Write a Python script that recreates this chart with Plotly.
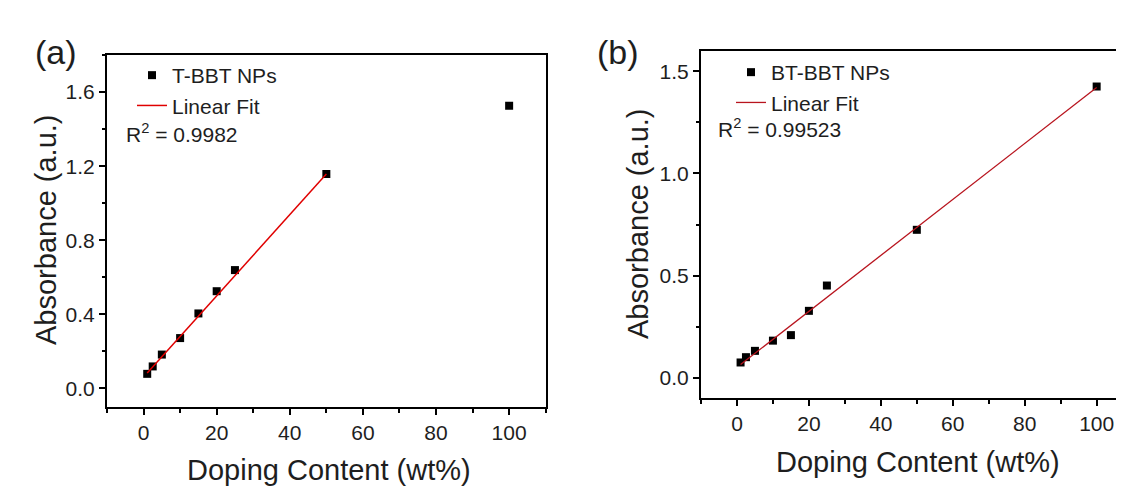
import plotly.graph_objects as go

# ---- data ----
doping = [1, 2.5, 5, 10, 15, 20, 25, 50, 100]
abs_tbbt = [0.079, 0.119, 0.183, 0.272, 0.405, 0.525, 0.639, 1.157, 1.526]
abs_btbbt = [0.074, 0.100, 0.131, 0.181, 0.208, 0.327, 0.451, 0.724, 1.426]

fit_a_x = [1, 50]
fit_a_y = [0.083, 1.157]
fit_b_x = [1, 100]
fit_b_y = [0.064, 1.421]

r2_a = "0.9982"
r2_b = "0.99523"

FONT = "Liberation Sans, Arial, sans-serif"
TXT = "#1e1e1e"
# page body has an 8px margin: figure occupies window px 8..1124 / 8..489
OX, OY = 8, 8
W, H = 1124 - OX, 489 - OY


def px(x):
    return (x - OX) / W


def py(y):
    return 1 - (y - OY) / H


fig = go.Figure()

fig.add_trace(go.Scatter(x=doping, y=abs_tbbt, mode="markers", name="T-BBT NPs",
                         marker=dict(symbol="square", size=8, color="black"),
                         xaxis="x", yaxis="y", legend="legend"))
fig.add_trace(go.Scatter(x=fit_a_x, y=fit_a_y, mode="lines", name="Linear Fit",
                         line=dict(color="#e00000", width=1.5),
                         xaxis="x", yaxis="y", legend="legend"))
fig.add_trace(go.Scatter(x=doping, y=abs_btbbt, mode="markers", name="BT-BBT NPs",
                         marker=dict(symbol="square", size=8, color="black"),
                         xaxis="x2", yaxis="y2", legend="legend2"))
fig.add_trace(go.Scatter(x=fit_b_x, y=fit_b_y, mode="lines", name="Linear Fit",
                         line=dict(color="#b8141e", width=1.3),
                         xaxis="x2", yaxis="y2", legend="legend2"))

axis_common = dict(showgrid=False, zeroline=False, showline=True, linecolor="black",
                   linewidth=2, ticks="outside", ticklen=6, tickwidth=1.5,
                   tickcolor="black", tickfont=dict(family=FONT, size=21, color=TXT))


def minor(d):
    return dict(dtick=d, tick0=0, ticks="outside", ticklen=3.5,
                tickwidth=1.5, tickcolor="black")


fig.update_layout(
    width=W, height=H, autosize=False,
    margin=dict(l=0, r=0, t=0, b=0),
    paper_bgcolor="white", plot_bgcolor="white",
    font=dict(family=FONT, color=TXT),
    showlegend=True,
    xaxis=dict(domain=[px(107), px(545.7)], range=[-10, 110], dtick=20, tick0=0,
               mirror=True, anchor="y", minor=minor(10), **axis_common),
    yaxis=dict(domain=[py(407), py(55)], range=[-0.1, 1.8], dtick=0.4, tick0=0,
               tickformat=".1f", mirror=True, anchor="x", minor=minor(0.2),
               **axis_common),
    xaxis2=dict(domain=[px(701), 1.0], range=[-10, 107.6], dtick=20, tick0=0,
                mirror=True, anchor="y2", minor=minor(10), **axis_common),
    yaxis2=dict(domain=[py(398), py(51)], range=[-0.1, 1.6], dtick=0.5, tick0=0,
                tickformat=".1f", mirror=False, anchor="x2", minor=minor(0.25),
                **axis_common),
    legend=dict(x=px(132), y=py(55), xanchor="left", yanchor="top",
                bgcolor="rgba(0,0,0,0)", borderwidth=0,
                font=dict(family=FONT, size=21, color=TXT), tracegroupgap=0),
    legend2=dict(x=px(731), y=py(52), xanchor="left", yanchor="top",
                 bgcolor="rgba(0,0,0,0)", borderwidth=0,
                 font=dict(family=FONT, size=21, color=TXT), tracegroupgap=0),
)

ann = []
# panel labels
ann.append(dict(text="(a)", x=px(33), y=py(31), xref="paper", yref="paper",
                showarrow=False, font=dict(family=FONT, size=34, color=TXT)))
ann.append(dict(text="(b)", x=px(618), y=py(31), xref="paper", yref="paper",
                showarrow=False, font=dict(family=FONT, size=34, color=TXT)))
# axis titles
for xt, yt in [(329, 470), (918, 462)]:
    ann.append(dict(text="Doping Content (wt%)", x=px(xt), y=py(yt),
                    xref="paper", yref="paper", showarrow=False,
                    xanchor="center", yanchor="middle",
                    font=dict(family=FONT, size=29, color=TXT)))
for xt, yt in [(46, 230), (638, 224)]:
    ann.append(dict(text="Absorbance (a.u.)", x=px(xt), y=py(yt), textangle=-90,
                    xref="paper", yref="paper", showarrow=False,
                    xanchor="center", yanchor="middle",
                    font=dict(family=FONT, size=29, color=TXT)))
# R^2
ann.append(dict(text="R<sup>2</sup> = " + r2_a, x=px(124), y=py(133),
                xref="paper", yref="paper", showarrow=False,
                xanchor="left", yanchor="middle",
                font=dict(family=FONT, size=21, color=TXT)))
ann.append(dict(text="R<sup>2</sup> = " + r2_b, x=px(716), y=py(128),
                xref="paper", yref="paper", showarrow=False,
                xanchor="left", yanchor="middle",
                font=dict(family=FONT, size=21, color=TXT)))
fig.update_layout(annotations=ann)

fig.write_html("out.html")
